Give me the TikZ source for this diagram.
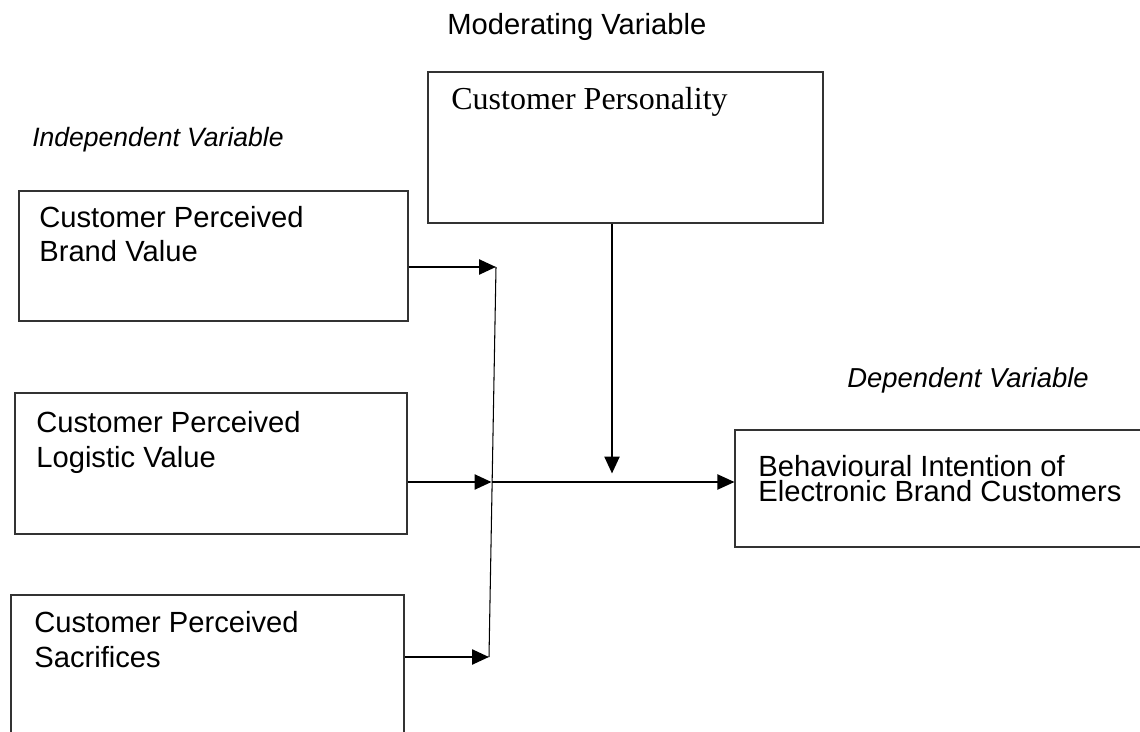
\documentclass[tikz,border=0pt]{standalone}
\usepackage{fontspec}
\setmainfont{Liberation Sans}
\newfontfamily\cpserif{Liberation Serif}
\usetikzlibrary{arrows.meta}

\begin{document}
\begin{tikzpicture}[
    >={Triangle[length=0.34cm, width=0.3cm]},
    varbox/.style={draw=black!80, line width=0.6pt, inner sep=0pt},
    vartext/.style={anchor=base west, inner sep=0pt, align=left,
                    font=\fontsize{16.6}{19.4}\selectfont},
    varlbl/.style={anchor=base west, inner sep=0pt,
                   font=\fontsize{15.6}{18}\selectfont\itshape},
    link/.style={->, line width=1.4pt}
  ]
  \useasboundingbox (0,0) rectangle (22.8,-14.64);
  \clip (0,0) rectangle (22.8,-14.64);

  % Moderating variable
  \node[vartext] (lblmod) at (8.94,-0.70) {Moderating Variable};
  \node[varbox, minimum width=7.90cm, minimum height=3.02cm] (cp) at (12.51,-2.95) {};
  \node[vartext, font=\fontsize{18.2}{20}\cpserif] (tcp) at (9.02,-2.20) {Customer Personality};

  % Independent variables (base = last line)
  \node[varlbl, font=\fontsize{15.1}{18}\selectfont\itshape] (lblind) at (0.64,-2.94) {Independent Variable};
  \node[varbox, minimum width=7.78cm, minimum height=2.60cm] (cpbv) at (4.27,-5.12) {};
  \node[vartext] (tcpbv) at (0.78,-5.24) {Customer Perceived\\Brand Value};
  \node[varbox, minimum width=7.84cm, minimum height=2.82cm] (cplv) at (4.22,-9.27) {};
  \node[vartext] (tcplv) at (0.72,-9.34) {Customer Perceived\\Logistic Value};
  \node[varbox, minimum width=7.86cm, minimum height=3.00cm] (cps) at (4.15,-13.40) {};
  \node[vartext] (tcps) at (0.68,-13.34) {Customer Perceived\\Sacrifices};

  % Dependent variable
  \node[varlbl] (lbldep) at (16.94,-7.74) {Dependent Variable};
  \node[varbox, minimum width=8.30cm, minimum height=2.34cm] (bi) at (18.85,-9.77) {};
  \node[vartext, font=\fontsize{16.6}{13.8}\selectfont] (tbi) at (15.16,-10.02)
    {Behavioural Intention of\\Electronic Brand Customers};

  % junction line and arrows
  \coordinate (jtop) at (9.92,-5.34);
  \coordinate (jmid) at (9.83,-9.64);
  \coordinate (jbot) at (9.78,-13.14);
  \coordinate (mtip) at (12.24,-9.47);
  \draw[line width=0.6pt] (jtop) -- (jbot);
  \draw[link] (cpbv.east |- jtop) -- (jtop);
  \draw[link] (cplv.east |- jmid) -- (jmid);
  \draw[link] (cps.east |- jbot) -- (jbot);
  \draw[link, line width=1.1pt] (jmid) -- (bi.west |- jmid);
  \draw[link] (cp.south -| mtip) -- (mtip);
\end{tikzpicture}
\end{document}
